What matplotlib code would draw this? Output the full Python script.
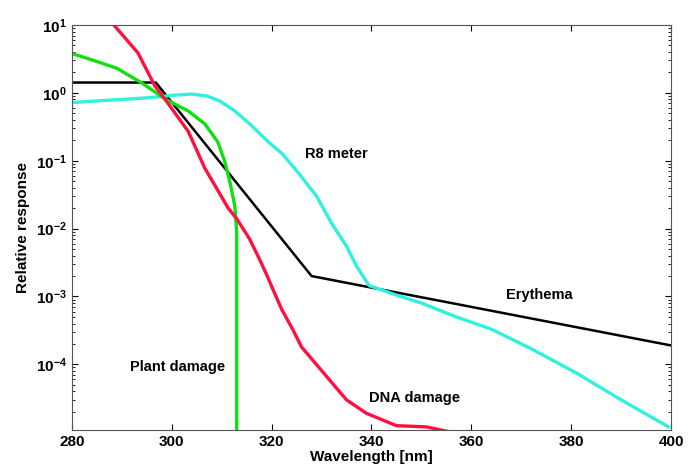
import numpy as np
from matplotlib import pyplot as plt
from matplotlib import ticker

plt.rcParams['font.family'] = ['Liberation Sans', 'DejaVu Sans']
plt.rcParams['font.weight'] = 'bold'
plt.rcParams['mathtext.fontset'] = 'custom'
plt.rcParams['mathtext.rm'] = 'Liberation Sans:bold'
plt.rcParams['mathtext.bf'] = 'Liberation Sans:bold'

# erythema (black)
ery_x = [280, 296.8, 328, 400]
ery_y = [1.42, 1.42, 2.0e-3, 1.9e-4]

# R8 meter (cyan)
r8_x = [280, 285, 290, 295.6, 300, 304, 307, 309.6, 312.5, 315.6, 319, 322.2, 325.6, 329, 332,
        335, 337, 339.5, 345, 350, 357, 364, 372, 381, 390, 399.5]
r8_y = [0.72, 0.76, 0.8, 0.85, 0.92, 0.96, 0.9, 0.76, 0.55, 0.35, 0.2, 0.125, 0.063, 0.03, 0.012,
        5.5e-3, 2.8e-3, 1.45e-3, 1.05e-3, 8e-4, 5e-4, 3.3e-4, 1.7e-4, 7.5e-5, 3e-5, 1.2e-5]

# plant damage (green)
plant_x = [280.5, 285, 289, 294, 298.8, 303.3, 306.6, 309.2, 310.6, 311.6, 312.6, 313, 313]
plant_y = [3.7, 2.9, 2.3, 1.4, 0.8, 0.54, 0.35, 0.19, 0.098, 0.05, 0.022, 9e-3, 1e-8]

# DNA damage (red)
dna_x = [288.6, 293.2, 296.6, 298.9, 303.3, 306.6, 309.9, 311.3, 313, 315.6, 317.6, 319, 320.2,
         322, 324.2, 326, 331.6, 335, 339, 345, 351, 356, 360]
dna_y = [9.6, 3.9, 1.27, 0.76, 0.27, 0.078, 0.03, 0.02, 0.014, 7e-3, 3.5e-3, 2.1e-3, 1.3e-3,
         6.5e-4, 3.3e-4, 1.8e-4, 5.9e-5, 3e-5, 1.9e-5, 1.25e-5, 1.2e-5, 1e-5, 9e-6]

fig = plt.figure(figsize=(6.9, 4.69), dpi=100)
ax = fig.add_axes([0.1043, 0.0832, 0.8682, 0.8635])

ax.plot(ery_x, ery_y, color='black', lw=1.8)
ax.plot(r8_x, r8_y, color='#30f0e0', lw=2.4)
ax.plot(plant_x, plant_y, color='#10e010', lw=2.4)
ax.plot(dna_x, dna_y, color='#ff1040', lw=2.4)

ax.set_yscale('log')
ax.set_xlim(280, 400)
ax.set_ylim(1.08e-5, 10)
ax.set_xticks([280, 300, 320, 340, 360, 380, 400])
ax.yaxis.set_major_locator(ticker.FixedLocator([1e-4, 1e-3, 1e-2, 1e-1, 1, 10]))
ax.yaxis.set_major_formatter(ticker.FuncFormatter(
    lambda v, p: r'$\mathbf{10^{%d}}$' % int(round(np.log10(v)))))
ax.yaxis.set_minor_locator(ticker.LogLocator(base=10, subs=np.arange(2, 10)))
ax.yaxis.set_minor_formatter(ticker.NullFormatter())
ax.tick_params(which='both', direction='in', top=True, right=True, labelsize=11)
ax.tick_params(which='major', length=4, width=0.8)
ax.tick_params(which='minor', length=2, width=0.6)
for s in ax.spines.values():
    s.set_color('#555555')

ax.set_xlabel('Wavelength [nm]', fontsize=11, fontweight='bold', labelpad=1)
ax.set_ylabel('Relative response', fontsize=11, fontweight='bold', labelpad=4)

ax.text(326.6, 0.125, 'R8 meter', fontsize=10.5, fontweight='bold', va='center')
ax.text(367, 1.04e-3, 'Erythema', fontsize=10.5, fontweight='bold', va='center')
ax.text(291.6, 9.0e-5, 'Plant damage', fontsize=10.5, fontweight='bold', va='center')
ax.text(339.6, 3.2e-5, 'DNA damage', fontsize=10.5, fontweight='bold', va='center')

fig.savefig('out.png', dpi=100)
